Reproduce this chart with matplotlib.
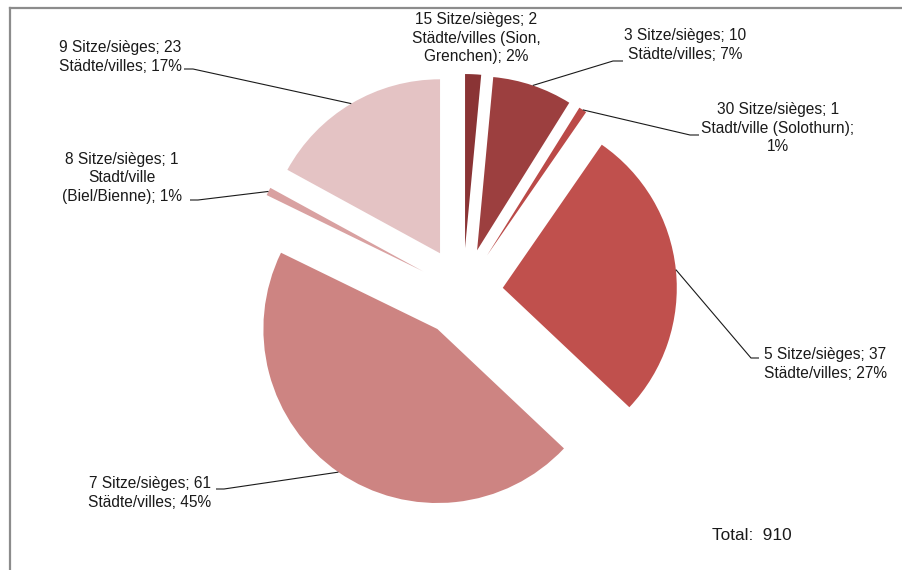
import numpy as np
import matplotlib.pyplot as plt

# --- data (clockwise from 12 o'clock) ---
seats = [15, 3, 30, 5, 7, 8, 9]
cities = [2, 10, 1, 37, 61, 1, 23]
labels = [
    "15 Sitze/sièges; 2\nStädte/villes (Sion,\nGrenchen); 2%",
    "3 Sitze/sièges; 10\nStädte/villes; 7%",
    "30 Sitze/sièges; 1\nStadt/ville (Solothurn);\n1%",
    "5 Sitze/sièges; 37\nStädte/villes; 27%",
    "7 Sitze/sièges; 61\nStädte/villes; 45%",
    "8 Sitze/sièges; 1\nStadt/ville\n(Biel/Bienne); 1%",
    "9 Sitze/sièges; 23\nStädte/villes; 17%",
]
total_label = "Total:  910"
colors = ['#8A3435', '#9C3F3F', '#BB4A48', '#C0504D', '#CD8482', '#D9A1A1', '#E4C3C4']

# --- layout (pixel space, y pointing down) ---
W, H = 902, 570
center = (463, 292)
radius = 174
explode = [44, 44, 44, 40, 45, 45, 45]

# label block centres, and leader elbows / ends (None = no leader)
label_pos = [(476, 38), (685, 45), (778, 128), (825, 364), (150, 493), (122, 178), (120, 57)]
leaders = [None,
           [(613, 61), (623, 61)],
           [(690, 135), (699, 135)],
           [(751, 358), (759, 358)],
           [(224, 489), (216, 489)],
           [(198, 200), (190, 200)],
           [(193, 69), (184, 69)]]

plt.rcParams['font.family'] = ['Liberation Sans', 'DejaVu Sans']

fig = plt.figure(figsize=(W / 100, H / 100), dpi=100)
ax = fig.add_axes([0, 0, 1, 1])

# y is inverted, so counterclock in data = clockwise on screen; -90 = top
wedges, _ = ax.pie(cities, colors=colors, explode=explode, center=center,
                   radius=radius, startangle=-90, counterclock=True,
                   wedgeprops=dict(linewidth=0), frame=True)
ax.set_xlim(0, W)
ax.set_ylim(H, 0)
ax.set_aspect('equal')
ax.axis('off')

for w, lab, pos, lead in zip(wedges, labels, label_pos, leaders):
    ax.text(pos[0], pos[1], lab, ha='center', va='center', multialignment='center',
            fontsize=11.2, color='#1a1a1a', linespacing=1.29)
    if lead is None:
        continue
    tm = np.radians((w.theta1 + w.theta2) / 2)
    cx, cy = w.center
    p0 = (cx + radius * np.cos(tm), cy + radius * np.sin(tm))
    pts = [p0] + lead
    ax.plot([p[0] for p in pts], [p[1] for p in pts], color='#1a1a1a', lw=0.8,
            solid_capstyle='butt')

ax.text(712, 535, total_label, ha='left', va='center', fontsize=12.4, color='#1a1a1a')

# outer chart frame (only top and left visible)
ax.plot([10, W], [8, 8], color='#8c8c8c', lw=1.6, clip_on=False)
ax.plot([10, 10], [8, H], color='#8c8c8c', lw=1.6, clip_on=False)

fig.savefig('out.png', dpi=100)
